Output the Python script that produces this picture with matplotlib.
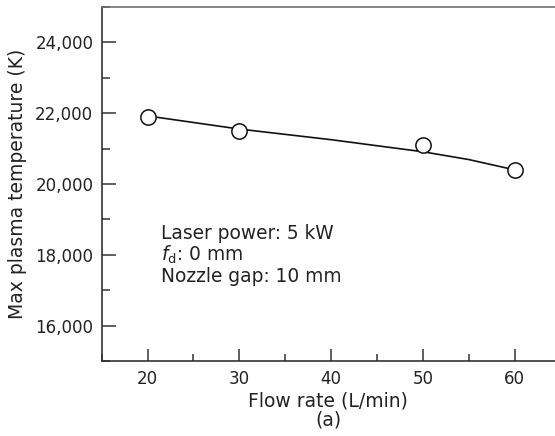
import matplotlib
matplotlib.use("Agg")
import matplotlib.pyplot as plt
from matplotlib.ticker import MultipleLocator, FuncFormatter

plt.rcParams['font.family'] = ['DejaVu Sans']
plt.rcParams['mathtext.fontset'] = 'dejavusans'

# measured points
flow_rate = [20, 30, 50, 60]
max_temp = [21900, 21500, 21100, 20400]

# trend curve
curve_x = [20, 30, 40, 50, 55, 60]
curve_y = [21920, 21550, 21250, 20910, 20690, 20400]

notes = ["Laser power: 5 kW", r"$f_\mathrm{d}$: 0 mm", "Nozzle gap: 10 mm"]

txt = '#222222'
fig = plt.figure(figsize=(5.55, 4.36), dpi=100)
ax = fig.add_axes([0.1832, 0.1713, 0.8168, 0.8133])

ax.plot(curve_x, curve_y, color='#111111', lw=1.2, zorder=2)
ax.plot(flow_rate, max_temp, 'o', ms=11, mfc='white', mec='#111111',
        mew=1.1, zorder=3)

ax.set_xlim(15, 64.4)
ax.set_ylim(15000, 25000)
ax.xaxis.set_major_locator(MultipleLocator(10))
ax.xaxis.set_minor_locator(MultipleLocator(5))
ax.yaxis.set_major_locator(MultipleLocator(2000))
ax.yaxis.set_minor_locator(MultipleLocator(1000))
ax.yaxis.set_major_formatter(FuncFormatter(lambda v, p: f"{int(v):,}"))

ax.tick_params(axis='both', which='both', direction='in', colors='#333333',
               labelcolor=txt, labelsize=12, width=1.1)
ax.tick_params(axis='x', which='major', length=8.5, pad=6.5)
ax.tick_params(axis='x', which='minor', length=5)
ax.tick_params(axis='y', which='major', length=10, pad=6)
ax.tick_params(axis='y', which='minor', length=5.5)

ax.spines['right'].set_visible(False)
ax.spines['left'].set_color('#333333')
ax.spines['bottom'].set_color('#333333')
ax.spines['top'].set_color('#707070')
for s in ['left', 'bottom', 'top']:
    ax.spines[s].set_linewidth(1.2)

ax.set_xlabel("Flow rate (L/min)\n(a)", fontsize=13.5, color=txt,
              labelpad=2, linespacing=1.0)
ax.set_ylabel("Max plasma temperature (K)", fontsize=13.5, color=txt,
              labelpad=6)

ax.text(0.131, 0.386, "\n".join(notes), transform=ax.transAxes,
        fontsize=13.4, color=txt, va='top', ha='left', linespacing=1.04)

fig.savefig("out.png", dpi=100)
